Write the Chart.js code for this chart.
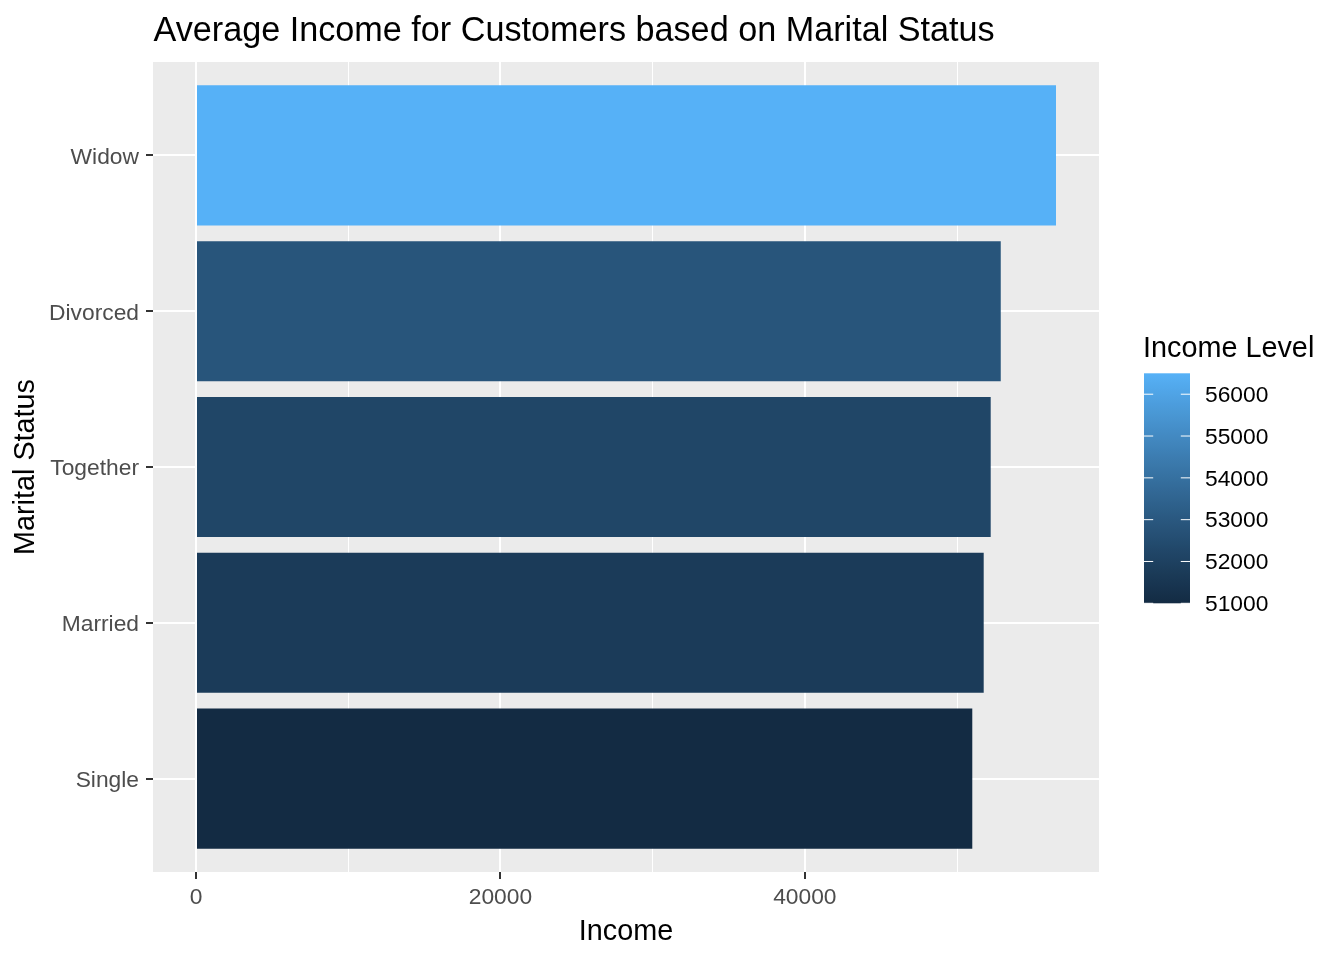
<!DOCTYPE html>
<html>
<head>
<meta charset="utf-8">
<script src="https://cdn.jsdelivr.net/npm/chart.js@4.4.1/dist/chart.umd.min.js"></script>
<style>
  html, body { margin: 0; padding: 0; background: #ffffff; }
  canvas { display: block; }
</style>
</head>
<body>
<canvas id="c" width="1344" height="960"></canvas>
<script>
// ---- data (factor order: bottom to top) ----
const categories = ['Single', 'Married', 'Together', 'Divorced', 'Widow'];
const incomeValues = [51000, 51750, 52210, 52870, 56500];
const xGridValues = [0, 10000, 20000, 30000, 40000, 50000];
const xLabelValues = [0, 20000, 40000];
const legendTicks = [51000, 52000, 53000, 54000, 55000, 56000];
const titleText = 'Average Income for Customers based on Marital Status';
const xTitle = 'Income';
const yTitle = 'Marital Status';
const legendTitle = 'Income Level';
const lowColor = '#132B43';
const highColor = '#56B1F7';

// ---- colour ramp in CIELAB (like ggplot2 scale_fill_gradient) ----
function hexToRgb(h) { return [1,3,5].map(i => parseInt(h.substr(i,2),16)/255); }
function toLin(c) { return c <= 0.04045 ? c/12.92 : Math.pow((c+0.055)/1.055, 2.4); }
function fromLin(c) { return c <= 0.0031308 ? 12.92*c : 1.055*Math.pow(c, 1/2.4) - 0.055; }
const Wn = [0.95047, 1.0, 1.08883];
function rgbToLab(rgb) {
  const [r,g,b] = rgb.map(toLin);
  const X = (0.4124564*r + 0.3575761*g + 0.1804375*b)/Wn[0];
  const Y = (0.2126729*r + 0.7151522*g + 0.0721750*b)/Wn[1];
  const Z = (0.0193339*r + 0.1191920*g + 0.9503041*b)/Wn[2];
  const f = t => t > 216/24389 ? Math.cbrt(t) : (24389/27*t + 16)/116;
  const fx = f(X), fy = f(Y), fz = f(Z);
  return [116*fy - 16, 500*(fx - fy), 200*(fy - fz)];
}
function labToHex(lab) {
  const [L,a,b] = lab;
  const fy = (L+16)/116, fx = fy + a/500, fz = fy - b/200;
  const fi = f => { const f3 = f*f*f; return f3 > 216/24389 ? f3 : (116*f - 16)/(24389/27); };
  const X = fi(fx)*Wn[0], Y = fi(fy)*Wn[1], Z = fi(fz)*Wn[2];
  const r =  3.2404542*X - 1.5371385*Y - 0.4985314*Z;
  const g = -0.9692660*X + 1.8760108*Y + 0.0415560*Z;
  const bb = 0.0556434*X - 0.2040259*Y + 1.0572252*Z;
  return '#' + [r,g,bb].map(c => {
    const v = Math.round(Math.min(1, Math.max(0, fromLin(c)))*255);
    return v.toString(16).padStart(2,'0');
  }).join('');
}
const labLow = rgbToLab(hexToRgb(lowColor));
const labHigh = rgbToLab(hexToRgb(highColor));
function rampColor(t) {
  return labToHex(labLow.map((v,i) => v + (labHigh[i]-v)*t));
}
const vMin = Math.min(...incomeValues), vMax = Math.max(...incomeValues);
function fillFor(v) { return rampColor((v - vMin)/(vMax - vMin)); }

const FONT = '"Liberation Sans", Arial, Helvetica, sans-serif';

// ---- plugins ----
const panelBg = {
  id: 'panelBg',
  beforeDraw(chart) {
    const {ctx, chartArea: a} = chart;
    ctx.save();
    ctx.fillStyle = '#EBEBEB';
    ctx.fillRect(a.left, a.top, a.right - a.left, a.bottom - a.top);
    ctx.restore();
  }
};

const titleAndLegend = {
  id: 'titleAndLegend',
  afterDraw(chart) {
    const {ctx, chartArea: a} = chart;
    ctx.save();
    // title
    ctx.fillStyle = '#000000';
    ctx.font = '34.2px ' + FONT;
    ctx.textAlign = 'left';
    ctx.textBaseline = 'alphabetic';
    ctx.fillText(titleText, a.left + 0.5, 40.5);

    // colourbar legend
    const bx = a.right + 45, bw = 46;
    const by = 373.3, bh = 230;
    ctx.font = '28.8px ' + FONT;
    ctx.fillText(legendTitle, a.right + 44, 356.5);

    const grad = ctx.createLinearGradient(0, by + bh, 0, by);
    for (let i = 0; i <= 30; i++) grad.addColorStop(i/30, rampColor(i/30));
    ctx.fillStyle = grad;
    ctx.fillRect(bx, by, bw, bh);

    ctx.strokeStyle = '#FFFFFF';
    ctx.lineWidth = 1;
    ctx.font = '22.8px ' + FONT;
    ctx.fillStyle = '#000000';
    ctx.textBaseline = 'middle';
    legendTicks.forEach(v => {
      const y = by + bh - (v - vMin)/(vMax - vMin)*bh;
      ctx.beginPath();
      ctx.moveTo(bx, y); ctx.lineTo(bx + bw/5, y);
      ctx.moveTo(bx + bw - bw/5, y); ctx.lineTo(bx + bw, y);
      ctx.stroke();
      ctx.fillText(String(v), bx + bw + 15, y + 1.5);
    });
    ctx.restore();
  }
};

const xMaxData = Math.max(...incomeValues);

new Chart(document.getElementById('c'), {
  type: 'bar',
  data: {
    datasets: [{
      data: incomeValues.map((v, i) => ({x: v, y: i + 1})),
      backgroundColor: incomeValues.map(fillFor),
      borderWidth: 0,
      categoryPercentage: 0.9,
      barPercentage: 1.0
    }]
  },
  options: {
    indexAxis: 'y',
    responsive: false,
    animation: false,
    devicePixelRatio: 1,
    layout: { padding: { left: 0, top: 62, right: 245, bottom: 0 } },
    plugins: {
      legend: { display: false },
      tooltip: { enabled: false },
      title: { display: false }
    },
    scales: {
      x: {
        type: 'linear',
        position: 'bottom',
        min: -0.05 * xMaxData,
        max: 1.05 * xMaxData,
        offset: false,
        afterBuildTicks(scale) { scale.ticks = xGridValues.map(v => ({value: v})); },
        afterFit(scale) { scale.height = 88; },
        border: { display: false },
        grid: {
          offset: false,
          color: '#FFFFFF',
          lineWidth: ctx => (ctx.tick && xLabelValues.includes(ctx.tick.value)) ? 2 : 1,
          tickColor: ctx => (ctx.tick && xLabelValues.includes(ctx.tick.value)) ? '#333333' : 'rgba(0,0,0,0)',
          tickWidth: 2,
          tickLength: 7,
          drawTicks: true
        },
        ticks: {
          autoSkip: false,
          maxRotation: 0,
          padding: 5.5,
          color: '#4D4D4D',
          font: { family: FONT, size: 22.8 },
          callback: v => xLabelValues.includes(v) ? String(v) : ''
        },
        title: {
          display: true,
          text: xTitle,
          color: '#000000',
          font: { family: FONT, size: 28.8 },
          padding: { top: 0, bottom: 11 }
        }
      },
      y: {
        type: 'linear',
        position: 'left',
        min: 0.4,
        max: categories.length + 0.6,
        offset: false,
        afterBuildTicks(scale) { scale.ticks = categories.map((c, i) => ({value: i + 1})); },
        afterFit(scale) { scale.width = 153; },
        border: { display: false },
        grid: {
          offset: false,
          color: '#FFFFFF',
          lineWidth: 2,
          tickColor: '#333333',
          tickWidth: 2,
          tickLength: 7,
          drawTicks: true
        },
        ticks: {
          autoSkip: false,
          padding: 7,
          labelOffset: 2,
          color: '#4D4D4D',
          font: { family: FONT, size: 22.8 },
          callback: v => categories[v - 1] || ''
        },
        title: {
          display: true,
          text: yTitle,
          color: '#000000',
          font: { family: FONT, size: 28.8 },
          padding: { top: 9, bottom: 0 }
        }
      }
    }
  },
  plugins: [panelBg, titleAndLegend]
});
</script>
</body>
</html>
